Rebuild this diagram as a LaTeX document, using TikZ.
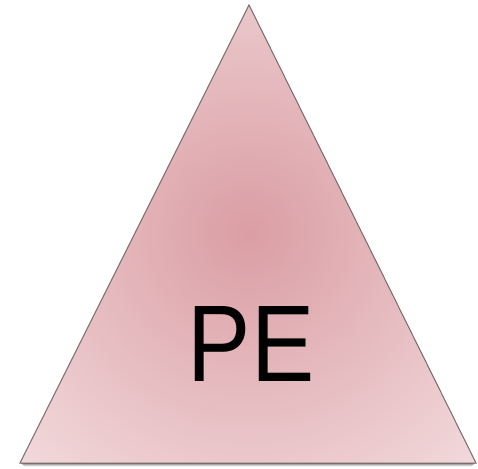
\documentclass[tikz,border=0pt]{standalone}
\usepackage{fontspec}
\setmainfont{Liberation Sans}
\definecolor{incol}{RGB}{218,158,164}
\definecolor{outcol}{RGB}{242,218,220}
\definecolor{edgecol}{RGB}{120,105,108}
\tikzset{
  tri/.style={draw=edgecol, line width=1pt, line join=miter},
  lbl/.style={font=\fontsize{109}{110}\selectfont, text=black, inner sep=0pt, xscale=0.87, transform shape}
}
\begin{document}
\begin{tikzpicture}[x=1pt,y=-1pt]
\useasboundingbox (0,0) rectangle (478,468);
% shadow
\foreach \d/\o in {1/0.35,2/0.22,3/0.12,4/0.06}{
  \fill[black, opacity=\o] (20+\d,463) -- (476-\d,463) -- (476-\d,463+\d) -- (20+\d,463+\d) -- cycle;
}
\coordinate (A) at (249,5);
\coordinate (B) at (20,463);
\coordinate (C) at (476,463);
\begin{scope}
\clip (A) -- (B) -- (C) -- cycle;
\shade[inner color=incol, outer color=outcol] (248,232) circle (330);
\end{scope}
\draw[tri] (A) -- (B) -- (C) -- cycle;
\node[lbl] (pe) at (251,344) {PE};
\end{tikzpicture}
\end{document}
